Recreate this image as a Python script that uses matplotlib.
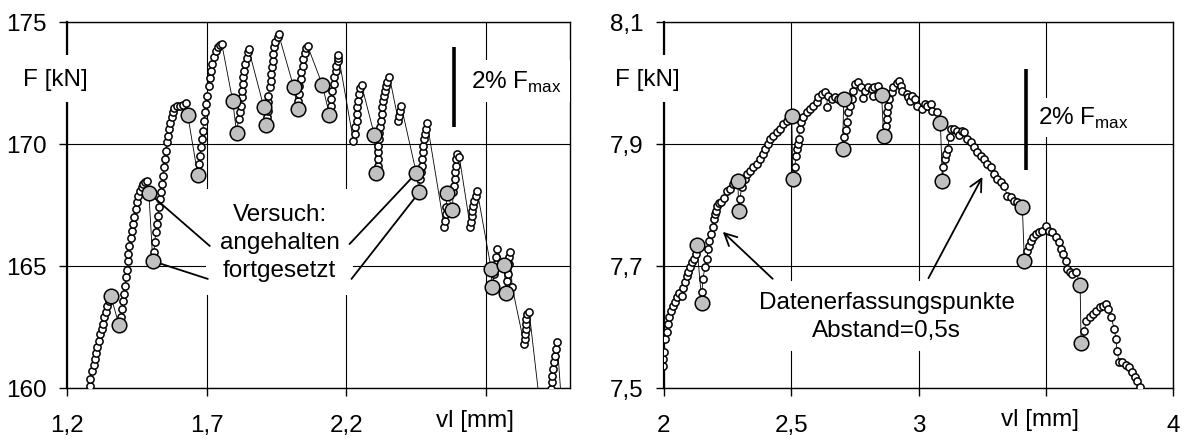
import matplotlib
matplotlib.use("Agg")
import matplotlib.pyplot as plt

plt.rcParams["font.family"] = ["Liberation Sans", "DejaVu Sans"]
plt.rcParams["font.size"] = 17.5

# ---- left panel: small data points between hold/resume events ----
left_segs_x = [
    [1.279, 1.282, 1.282, 1.289, 1.296, 1.300, 1.304, 1.307, 1.314, 1.318, 1.325, 1.329, 1.332, 1.339, 1.343, 1.350],
    [1.393, 1.396, 1.400, 1.404, 1.407, 1.411, 1.414, 1.418, 1.418, 1.421, 1.429, 1.432, 1.436, 1.439, 1.446, 1.450,
     1.454, 1.461, 1.468, 1.471, 1.479, 1.486],
    [1.511, 1.514, 1.518, 1.521, 1.525, 1.529, 1.532, 1.536, 1.539, 1.543, 1.546, 1.550, 1.554, 1.557, 1.561, 1.564,
     1.568, 1.575, 1.579, 1.582, 1.593, 1.604, 1.614, 1.625],
    [1.671, 1.675, 1.679, 1.682, 1.686, 1.689, 1.693, 1.696, 1.700, 1.707, 1.711, 1.714, 1.718, 1.725, 1.732, 1.739,
     1.746, 1.754],
    [1.814, 1.818, 1.821, 1.825, 1.825, 1.829, 1.829, 1.832, 1.836, 1.843, 1.846, 1.850],
    [1.914, 1.918, 1.921, 1.921, 1.925, 1.929, 1.929, 1.932, 1.936, 1.936, 1.939, 1.946, 1.954, 1.957],
    [2.025, 2.029, 2.032, 2.036, 2.039, 2.043, 2.046, 2.050, 2.057, 2.061],
    [2.146, 2.146, 2.150, 2.154, 2.157, 2.161, 2.164, 2.168, 2.171, 2.171,
     2.225, 2.229, 2.232, 2.236, 2.236, 2.239, 2.243, 2.246, 2.250, 2.254],
    [2.314, 2.314, 2.314, 2.314, 2.318, 2.318, 2.321, 2.325, 2.329, 2.329, 2.332, 2.336, 2.339, 2.343, 2.346, 2.354,
     2.386, 2.389, 2.393, 2.396],
    [2.464, 2.468, 2.471, 2.471, 2.475, 2.475, 2.479, 2.482, 2.486, 2.489,
     2.550, 2.554, 2.557, 2.557],
    [2.582, 2.586, 2.589, 2.589, 2.593, 2.593, 2.596, 2.604,
     2.643, 2.646, 2.650, 2.650, 2.654, 2.657, 2.664, 2.668],
    [2.729, 2.736, 2.736, 2.739],
    [2.775, 2.779, 2.782, 2.782, 2.786, 2.793, 2.836, 2.839, 2.839, 2.843, 2.843, 2.843, 2.846, 2.854, 2.889,
     2.932, 2.936, 2.936, 2.939, 2.943, 2.946, 2.950, 2.954, 2.968],
]
left_segs_y = [
    [159.67, 160.08, 160.37, 160.70, 160.94, 161.19, 161.43, 161.68, 161.93, 162.21, 162.42, 162.62, 162.91, 163.11,
     163.36, 163.57],
    [162.91, 163.24, 163.57, 163.85, 164.18, 164.55, 164.84, 165.20, 165.49, 165.82, 166.15, 166.43, 166.72, 167.01,
     167.34, 167.62, 167.87, 168.07, 168.24, 168.36, 168.44, 168.48],
    [165.57, 165.98, 166.39, 166.72, 167.05, 167.42, 167.75, 168.03, 168.36, 168.69, 169.06, 169.39, 169.71, 170.08,
     170.33, 170.61, 170.86, 171.11, 171.31, 171.48, 171.56, 171.56, 171.60, 171.68],
    [169.18, 169.51, 169.88, 170.20, 170.53, 170.94, 171.31, 171.64, 171.97, 172.38, 172.70, 172.99, 173.28, 173.57,
     173.81, 173.98, 174.06, 174.10],
    [171.02, 171.31, 171.56, 171.93, 172.17, 172.46, 172.75, 172.99, 173.28, 173.52, 173.77, 173.89],
    [171.11, 171.35, 171.72, 171.97, 172.34, 172.58, 172.87, 173.16, 173.40, 173.69, 173.98, 174.18, 174.39, 174.51],
    [171.76, 172.05, 172.38, 172.66, 172.95, 173.20, 173.48, 173.73, 173.93, 174.02],
    [171.56, 171.84, 172.17, 172.46, 172.75, 172.99, 173.20, 173.40, 173.52, 173.65,
     170.12, 170.41, 170.70, 170.94, 171.23, 171.52, 171.76, 172.05, 172.30, 172.42],
    [169.10, 169.39, 169.67, 169.92, 170.20, 170.45, 170.70, 170.94, 171.23, 171.52, 171.76, 171.97, 172.17, 172.38,
     172.54, 172.75, 170.94, 171.15, 171.35, 171.56],
    [168.57, 168.85, 169.10, 169.39, 169.67, 169.92, 170.20, 170.41, 170.61, 170.86,
     166.60, 166.84, 167.13, 167.42],
    [168.03, 168.28, 168.57, 168.85, 169.10, 169.39, 169.59, 169.47,
     166.60, 166.80, 167.05, 167.25, 167.46, 167.66, 167.87, 168.07],
    [164.67, 165.08, 165.37, 165.70],
    [164.39, 164.67, 165.08, 165.37, 165.57, 164.14, 161.80, 162.01, 162.21, 162.42, 162.62, 162.83, 163.03, 163.11,
     159.63, 159.96, 160.25, 160.49, 160.78, 161.07, 161.31, 161.60, 161.89, 159.63],
]
left_hold_x = [1.357, 1.493, 1.632, 1.793, 1.904, 2.011, 2.114, 2.300, 2.450, 2.561, 2.718, 2.764]
left_hold_y = [163.77, 167.99, 171.19, 171.76, 171.52, 172.34, 172.42, 170.37, 168.81, 167.99, 164.88, 165.04]
left_res_x = [1.386, 1.507, 1.668, 1.807, 1.911, 2.025, 2.139, 2.307, 2.461, 2.579, 2.721, 2.771]
left_res_y = [162.58, 165.20, 168.73, 170.45, 170.78, 171.43, 171.19, 168.81, 168.03, 167.30, 164.14, 163.89]

# ---- right panel ----
right_segs_x = [
    [1.990, 1.996, 1.996, 2.000, 2.004, 2.012, 2.016, 2.020, 2.027, 2.035, 2.043, 2.051, 2.059, 2.071, 2.075, 2.082,
     2.090, 2.094, 2.102, 2.110, 2.118, 2.125],
    [2.149, 2.153, 2.161, 2.169, 2.173, 2.176, 2.184, 2.192, 2.196, 2.200, 2.204, 2.208, 2.216, 2.224, 2.235, 2.247,
     2.259, 2.271],
    [2.298, 2.306, 2.318, 2.325, 2.337, 2.349, 2.365, 2.376, 2.388, 2.396, 2.408, 2.416, 2.427, 2.443, 2.455, 2.467,
     2.482],
    [2.514, 2.518, 2.522, 2.525, 2.529, 2.533, 2.537, 2.545, 2.561, 2.573, 2.584, 2.600, 2.604, 2.620, 2.631, 2.643,
     2.639, 2.659, 2.671, 2.682],
    [2.706, 2.714, 2.718, 2.722, 2.729, 2.737, 2.741, 2.749, 2.761, 2.776, 2.780, 2.788, 2.800, 2.816, 2.820, 2.827,
     2.839],
    [2.871, 2.875, 2.878, 2.882, 2.886, 2.894, 2.898, 2.914, 2.922, 2.933, 2.937, 2.953, 2.957, 2.965, 2.976, 2.988,
     2.996, 3.012, 3.024, 3.035, 3.051, 3.055, 3.071],
    [3.098, 3.106, 3.110, 3.114, 3.122, 3.129, 3.141, 3.153, 3.161, 3.169, 3.180, 3.192, 3.208, 3.220, 3.231, 3.247,
     3.259, 3.271, 3.286, 3.298, 3.310, 3.325, 3.337, 3.349, 3.365, 3.376, 3.388],
    [3.427, 3.435, 3.443, 3.451, 3.463, 3.475, 3.486, 3.502, 3.514, 3.525, 3.541, 3.553, 3.561, 3.569, 3.580, 3.584,
     3.596, 3.604, 3.620],
    [3.651, 3.659, 3.675, 3.686, 3.698, 3.714, 3.725, 3.737, 3.745, 3.757, 3.769, 3.776, 3.780, 3.788, 3.800, 3.816,
     3.827, 3.839, 3.851, 3.859, 3.871, 3.878],
]
right_segs_y = [
    [7.490, 7.536, 7.548, 7.559, 7.580, 7.592, 7.605, 7.616, 7.626, 7.634, 7.641, 7.649, 7.656, 7.651, 7.664, 7.674,
     7.684, 7.690, 7.698, 7.707, 7.711, 7.720],
    [7.657, 7.679, 7.698, 7.711, 7.728, 7.741, 7.752, 7.764, 7.777, 7.785, 7.790, 7.798, 7.803, 7.805, 7.811, 7.823,
     7.826, 7.834],
    [7.810, 7.830, 7.843, 7.851, 7.856, 7.862, 7.867, 7.875, 7.884, 7.892, 7.900, 7.908, 7.913, 7.920, 7.925, 7.933,
     7.938],
    [7.862, 7.880, 7.892, 7.900, 7.908, 7.925, 7.936, 7.944, 7.952, 7.957, 7.962, 7.969, 7.977, 7.982, 7.985, 7.979,
     7.961, 7.974, 7.977, 7.974],
    [7.911, 7.923, 7.936, 7.952, 7.962, 7.974, 7.987, 7.998, 8.002, 7.993, 7.975, 7.987, 7.993, 7.990, 7.979, 7.993,
     7.995],
    [7.930, 7.941, 7.952, 7.962, 7.974, 7.985, 7.993, 8.000, 8.003, 7.995, 7.987, 7.982, 7.977, 7.970, 7.979, 7.974,
     7.962, 7.957, 7.966, 7.962, 7.966, 7.954, 7.952],
    [7.862, 7.875, 7.884, 7.892, 7.911, 7.925, 7.925, 7.921, 7.915, 7.921, 7.920, 7.908, 7.903, 7.895, 7.887, 7.880,
     7.875, 7.867, 7.862, 7.851, 7.843, 7.838, 7.831, 7.815, 7.813, 7.807, 7.805],
    [7.725, 7.733, 7.741, 7.748, 7.752, 7.756, 7.757, 7.766, 7.757, 7.756, 7.748, 7.739, 7.728, 7.720, 7.708, 7.695,
     7.690, 7.687, 7.690],
    [7.593, 7.610, 7.616, 7.621, 7.626, 7.633, 7.634, 7.638, 7.630, 7.616, 7.597, 7.580, 7.561, 7.543, 7.543, 7.538,
     7.534, 7.526, 7.518, 7.511, 7.502, 7.487],
]
right_hold_x = [2.129, 2.290, 2.502, 2.706, 2.855, 3.086, 3.408, 3.635]
right_hold_y = [7.734, 7.839, 7.946, 7.974, 7.980, 7.934, 7.797, 7.669]
right_res_x = [2.149, 2.294, 2.506, 2.702, 2.863, 3.094, 3.416, 3.639]
right_res_y = [7.639, 7.790, 7.843, 7.892, 7.913, 7.839, 7.708, 7.574]


def build_path(sx, sy, hx, hy, rx, ry):
    px, py = [], []
    for i in range(len(sx)):
        px += sx[i]
        py += sy[i]
        if i < len(hx):
            px += [hx[i], rx[i]]
            py += [hy[i], ry[i]]
    return px, py


def draw_series(ax, sx, sy, hx, hy, rx, ry):
    px, py = build_path(sx, sy, hx, hy, rx, ry)
    ax.plot(px, py, "-", color="k", lw=0.6, zorder=3)
    flat_x = [v for s in sx for v in s]
    flat_y = [v for s in sy for v in s]
    ax.plot(flat_x, flat_y, "o", ms=5.2, mfc="white", mec="k", mew=1.1, zorder=4)
    ax.plot(hx + rx, hy + ry, "o", ms=10.5, mfc="#c0c0c0", mec="k", mew=1.1, zorder=5)


def style_axes(ax):
    ax.set_axisbelow(True)
    ax.grid(True, color="k", lw=0.8)
    for s in ax.spines.values():
        s.set_linewidth(1.0)
    ax.spines["left"].set_linewidth(1.6)
    ax.tick_params(direction="out", length=5.5, width=1.0)
    ax.tick_params(axis="y", pad=9)
    ax.tick_params(axis="x", pad=13)


fig = plt.figure(figsize=(11.88, 4.39), dpi=100)
ax1 = fig.add_axes([67 / 1188, 50 / 439, 503 / 1188, 366 / 439])
ax2 = fig.add_axes([664 / 1188, 50 / 439, 509 / 1188, 366 / 439])

# left panel
draw_series(ax1, left_segs_x, left_segs_y, left_hold_x, left_hold_y, left_res_x, left_res_y)
ax1.set_xlim(1.2, 3.0)
ax1.set_ylim(160, 175)
ax1.set_xticks([1.2, 1.7, 2.2, 2.7])
ax1.set_xticklabels(["1,2", "1,7", "2,2", ""])
ax1.set_yticks([160, 165, 170, 175])
ax1.set_yticklabels(["160", "165", "170", "175"])
style_axes(ax1)
ax1.text(-0.024, 0.845, "F [kN]", transform=ax1.transAxes, ha="center", va="center",
         bbox=dict(facecolor="white", edgecolor="none", pad=9), zorder=6)
ax1.text(0.893, 0.838, r"2% F$_{\mathregular{max}}$", transform=ax1.transAxes, ha="center", va="center",
         bbox=dict(facecolor="white", edgecolor="none", pad=6), zorder=6)
ax1.plot([2.586, 2.586], [170.70, 173.98], color="k", lw=2.6, solid_capstyle="butt", zorder=6)
ax1.text(1.961, 165.98, "Versuch:\nangehalten\nfortgesetzt", ha="center", va="center",
         linespacing=1.35, bbox=dict(facecolor="white", edgecolor="none", pad=10), zorder=6)
for (tx, ty), (dx, dy) in [((1.711, 165.82), (left_hold_x[1], left_hold_y[1])),
                           ((1.704, 164.47), (left_res_x[1], left_res_y[1])),
                           ((2.211, 165.90), (left_hold_x[8], left_hold_y[8])),
                           ((2.218, 164.47), (left_res_x[8], left_res_y[8]))]:
    ax1.annotate("", xy=(dx, dy), xytext=(tx, ty),
                 arrowprops=dict(arrowstyle="-", color="k", lw=1.3, shrinkA=0, shrinkB=6), zorder=7)
fig.text(475 / 1188, 1 - 421 / 439, "vl [mm]", ha="center", va="center")

# right panel
draw_series(ax2, right_segs_x, right_segs_y, right_hold_x, right_hold_y, right_res_x, right_res_y)
ax2.set_xlim(2.0, 4.0)
ax2.set_ylim(7.5, 8.1)
ax2.set_xticks([2.0, 2.5, 3.0, 3.5, 4.0])
ax2.set_xticklabels(["2", "2,5", "3", "", "4"])
ax2.set_yticks([7.5, 7.7, 7.9, 8.1])
ax2.set_yticklabels(["7,5", "7,7", "7,9", "8,1"])
style_axes(ax2)
ax2.text(-0.033, 0.845, "F [kN]", transform=ax2.transAxes, ha="center", va="center",
         bbox=dict(facecolor="white", edgecolor="none", pad=9), zorder=6)
ax2.text(0.823, 0.740, r"2% F$_{\mathregular{max}}$", transform=ax2.transAxes, ha="center", va="center",
         bbox=dict(facecolor="white", edgecolor="none", pad=5), zorder=6)
ax2.plot([3.424, 3.424], [7.857, 8.023], color="k", lw=2.6, solid_capstyle="butt", zorder=6)
ax2.text(2.875, 7.618, "Datenerfassungspunkte\nAbstand=0,5s", ha="center", va="center",
         linespacing=1.4, bbox=dict(facecolor="white", edgecolor="none", pad=7), zorder=6)
for (tx, ty), (dx, dy) in [((2.427, 7.679), (2.231, 7.756)),
                           ((3.039, 7.680), (3.251, 7.846))]:
    ax2.annotate("", xy=(dx, dy), xytext=(tx, ty),
                 arrowprops=dict(arrowstyle="->", color="k", lw=1.3, shrinkA=0, shrinkB=0,
                                 mutation_scale=22), zorder=7)
fig.text(1040 / 1188, 1 - 420 / 439, "vl [mm]", ha="center", va="center")

fig.savefig("out.png", dpi=100)
